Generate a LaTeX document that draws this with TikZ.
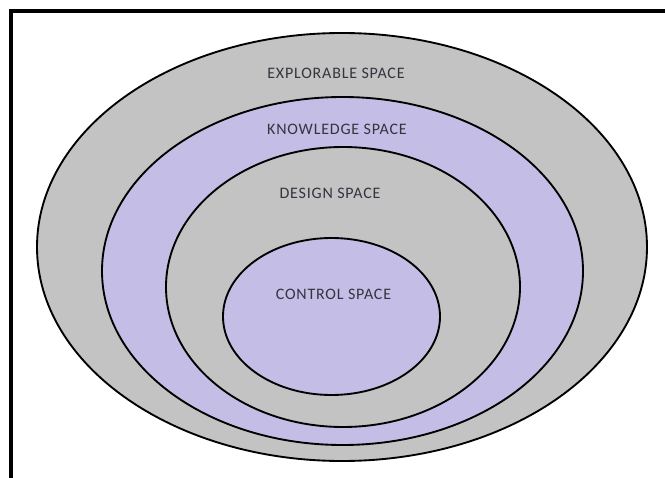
\documentclass[tikz,border=0pt]{standalone}
\usepackage{fontspec}
\setmainfont{Carlito}
\definecolor{ringgray}{HTML}{C3C3C3}
\definecolor{ringlav}{HTML}{C4BEE6}
\definecolor{labeltext}{HTML}{34343F}
\newfontfamily\labelfont[LetterSpace=5]{Carlito}
\begin{document}
\begin{tikzpicture}[x=0.75pt,y=-0.75pt,
  ring/.style={draw=black,line width=1.4pt},
  lbl/.style={text=labeltext,font=\labelfont\fontsize{12}{14}\selectfont,inner sep=0pt}]
\useasboundingbox (0,0) rectangle (665,478);
\fill[white] (0,0) rectangle (665,478);
\draw[line width=2.3pt] (11,478) -- (11,11) -- (665,11);
\draw[ring,fill=ringgray] (342,247) ellipse [x radius=305,y radius=214];
\draw[ring,fill=ringlav] (342.5,271) ellipse [x radius=240.5,y radius=174];
\draw[ring,fill=ringgray] (343,287) ellipse [x radius=177,y radius=140];
\draw[ring,fill=ringlav] (331.5,316.5) ellipse [x radius=108.5,y radius=78.5];
\node[lbl] (explorable) at (336,73) {EXPLORABLE SPACE};
\node[lbl] (knowledge) at (337,129) {KNOWLEDGE SPACE};
\node[lbl] (design) at (330,193) {DESIGN SPACE};
\node[lbl] (control) at (333.5,294) {CONTROL SPACE};
\end{tikzpicture}
\end{document}
